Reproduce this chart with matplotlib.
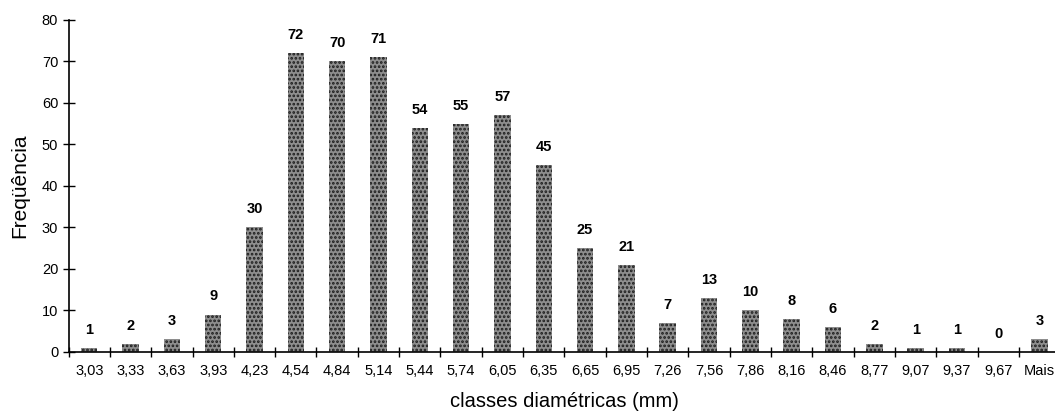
import matplotlib
matplotlib.use("Agg")
import matplotlib.pyplot as plt
import numpy as np

# Classes diamétricas (mm) e frequências observadas
classes = ["3,03", "3,33", "3,63", "3,93", "4,23", "4,54", "4,84", "5,14",
           "5,44", "5,74", "6,05", "6,35", "6,65", "6,95", "7,26", "7,56",
           "7,86", "8,16", "8,46", "8,77", "9,07", "9,37", "9,67", "Mais"]
frequencias = [1, 2, 3, 9, 30, 72, 70, 71, 54, 55, 57, 45, 25, 21, 7, 13,
               10, 8, 6, 2, 1, 1, 0, 3]

plt.rcParams['font.family'] = ['Liberation Sans', 'DejaVu Sans']
plt.rcParams['hatch.linewidth'] = 1.3

fig = plt.figure(figsize=(10.55, 4.16), dpi=100)
ax = fig.add_axes([0.065, 0.154, 0.94, 0.798])

x = np.arange(len(classes))
bars = ax.bar(x, frequencias, width=0.4, facecolor='#8e8e8e',
              edgecolor='#1c1c1c', hatch='....', linewidth=0)

for xi, v in zip(x, frequencias):
    ax.annotate(str(v), (xi, v), xytext=(0, 8), textcoords='offset points',
                ha='center', va='bottom', fontsize=10.5, fontweight='bold')

ax.set_xlim(-0.5, len(classes) - 0.5)
ax.set_ylim(0, 80)
ax.set_yticks(range(0, 81, 10))
ax.set_xticks(x)
ax.set_xticklabels(classes)
ax.set_xticks(np.arange(-0.5, len(classes), 1), minor=True)
ax.tick_params(axis='x', which='major', length=0, pad=9, labelsize=10.5)
ax.tick_params(axis='x', which='minor', direction='inout', length=7, width=1)
ax.tick_params(axis='y', direction='inout', length=8, width=1, labelsize=10.5)

for s in ['top', 'right']:
    ax.spines[s].set_visible(False)
for s in ['left', 'bottom']:
    ax.spines[s].set_linewidth(1.2)

ax.set_ylabel('Freqüência', fontsize=15, labelpad=9)
ax.set_xlabel('classes diamétricas (mm)', fontsize=14.5, labelpad=10)

fig.savefig('out.png', dpi=100)
